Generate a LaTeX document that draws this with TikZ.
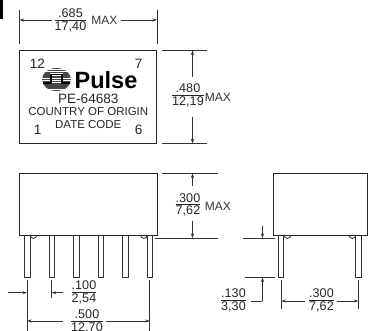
\documentclass[tikz,border=0pt]{standalone}
\usepackage{fontspec}
\setmainfont{Liberation Sans}
\usetikzlibrary{arrows.meta}
\tikzset{
 x=1pt,y=-1pt,
 part/.style={draw=black!85,line width=0.8pt},
 pin/.style={draw=black!80,line width=0.7pt,fill=white},
 ext/.style={draw=black!80,line width=0.55pt},
 dim/.style={draw=black!80,line width=0.55pt,-{Stealth[length=4.5pt,width=3pt]}},
 lab/.style={inner sep=0pt,font=\fontsize{12.6}{12.6}\selectfont,text=black!85},
 maxlab/.style={inner sep=0pt,font=\fontsize{12}{12}\selectfont,text=black!80},
 big/.style={inner sep=0pt,font=\fontsize{13.6}{13.6}\selectfont,text=black!85},
 mid/.style={inner sep=0pt,font=\fontsize{11.5}{11.5}\selectfont,text=black!85},
}
\newcommand{\frc}[2]{\begin{tabular}{@{}c@{}}#1\\[-1.6pt]\hline\noalign{\vskip 1.2pt}#2\end{tabular}}
\setlength{\arrayrulewidth}{0.5pt}
\begin{document}
\begin{tikzpicture}
\useasboundingbox (0,0) rectangle (368,331);
\fill[black] (0,0) rectangle (3.5,19);
% top view
\node[part,minimum width=137pt,minimum height=93pt,inner sep=0pt,anchor=north west] (top) at (19.5,50.5) {};
\coordinate (t1) at (19.5,10); \coordinate (t1b) at (19.5,44);
\coordinate (t2) at (157,10); \coordinate (t2b) at (157,44);
\draw[ext] (t1)--(t1b); \draw[ext] (t2)--(t2b);
\node[lab] (w) at (70.5,21.5) {\frc{.685}{17,40}};
\node[maxlab] (wm) at (104.5,20.7) {MAX};
\draw[dim] (52,20) -- (t1 |- 0,20);
\draw[dim] (121,20) -- (t2 |- 0,20);
\node[big] (n12) at (37.5,63.5) {12};
\node[big] (n7) at (138.7,63.5) {7};
\node[big] (n1) at (37.7,130) {1};
\node[big] (n6) at (138.7,130) {6};
\node[big] (pn) at (88.3,99) {PE-64683};
\node[mid] (co) at (88.3,111.7) {COUNTRY OF ORIGIN};
\node[mid] (dc) at (88.3,124.8) {DATE CODE};
\node[inner sep=0pt,font=\bfseries\fontsize{23.5}{23.5}\selectfont,text=black] (pu) at (106,80) {Pulse};
% globe
\begin{scope}
\clip (56.5,79.5) circle (14.5pt and 11.5pt);
\foreach \yy in {68.4,70.6,72.8,75,77.2,79.4,81.6,83.8,86,88.2,90.4}{\fill[black!72] (40,\yy-0.75) rectangle (75,\yy+0.75);}
\end{scope}
\draw[white,line width=2.2pt] (43,83) -- (51,83) -- (51,74.5) -- (62,74.5) -- (62,83) -- (70,83);
\draw[black,line width=1.1pt] (43,83) -- (51,83) -- (51,74.5) -- (62,74.5) -- (62,83) -- (70,83);
% height dim
\coordinate (h1) at (162,50.5); \coordinate (h2) at (207,50.5);
\coordinate (h3) at (162,143.5); \coordinate (h4) at (207,143.5);
\draw[ext] (h1)--(h2); \draw[ext] (h3)--(h4);
\node[lab] (hf) at (188,96.5) {\frc{.480}{12,19}};
\node[maxlab] (hm) at (218,97) {MAX};
\draw[dim] (192.5,77) -- (192.5,50.5);
\draw[dim] (192.5,117) -- (192.5,143.5);
% front
\foreach \x in {24.5,49,73.5,98,122.5,147}{\draw[pin] (\x,235) -- (\x,277) -- (\x+5.5,277) -- (\x+5.5,235);}
\draw[part] (30,235) arc (180:360:3.4pt and 3.4pt);
\draw[part] (140.5,235) arc (180:360:3.4pt and 3.4pt);
\node[part,fill=white,minimum width=138pt,minimum height=62pt,inner sep=0pt,anchor=north west] (front) at (19,173) {};
\draw[ext] (162,173.5)--(218,173.5);
\draw[ext] (155,238)--(218,238);
\node[lab] (ff) at (188,206) {\frc{.300}{7,62}};
\node[maxlab] (fm) at (218,206.5) {MAX};
\draw[dim] (192.5,186) -- (192.5,173.5);
\draw[dim] (192.5,221) -- (192.5,238);
\draw[ext] (27,280) -- (27,331); \draw[ext] (51.7,280) -- (51.7,298); \draw[ext] (149.7,280) -- (149.7,331);
\draw[dim] (8,292.7) -- (27,292.7);
\draw[dim] (63,292.7) -- (51.7,292.7);
\node[lab] (a) at (84,293.5) {\frc{.100}{2,54}};
\node[lab] (b) at (87,322.5) {\frc{.500}{12,70}};
\draw[dim] (63,321) -- (27,321);
\draw[dim] (106,321) -- (149.7,321);
% side
\foreach \x in {278.3,355.5}{\draw[pin] (\x,235) -- (\x,277) -- (\x+5.5,277) -- (\x+5.5,235);}
\draw[part] (284,235) arc (180:360:3.4pt and 3.4pt);
\draw[part] (349,235) arc (180:360:3.4pt and 3.4pt);
\node[part,fill=white,minimum width=94pt,minimum height=62pt,inner sep=0pt,anchor=north west] (side) at (273,173) {};
\draw[ext] (243,238)--(275,238);
\draw[ext] (245.5,277.5)--(275,277.5);
\draw[dim] (262.5,226.5)--(262.5,238);
\draw[dim] (262.5,301)--(262.5,277.5);
\draw[ext] (250.7,301)--(262.5,301);
\node[lab] (c) at (233.5,301.5) {\frc{.130}{3,30}};
\draw[ext] (281.3,280)--(281.3,308.7); \draw[ext] (358.3,280)--(358.3,308.7);
\node[lab] (d) at (321.5,301.5) {\frc{.300}{7,62}};
\draw[dim] (304.7,301)--(281.3,301);
\draw[dim] (337,301)--(358.3,301);
\end{tikzpicture}
\end{document}
